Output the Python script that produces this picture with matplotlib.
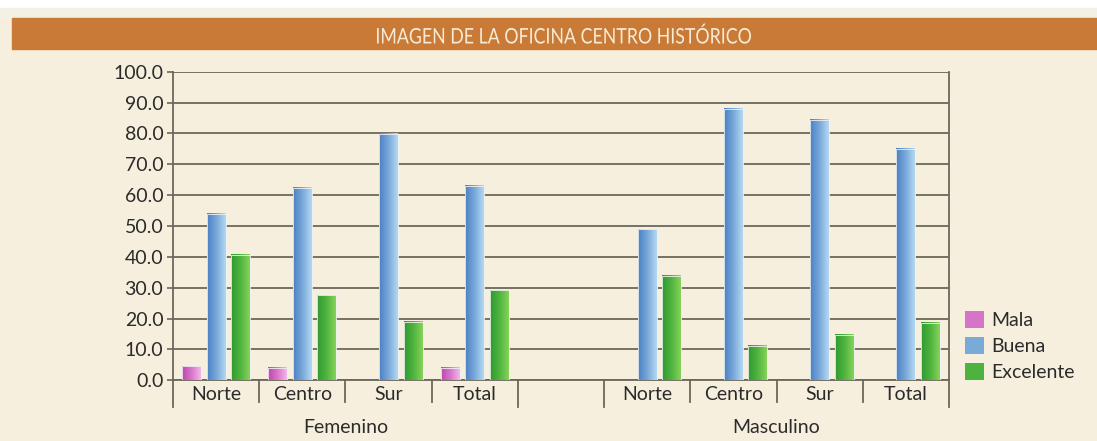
import numpy as np
import matplotlib
matplotlib.use('Agg')
import matplotlib.pyplot as plt
import matplotlib.transforms as mtransforms
from matplotlib.colors import LinearSegmentedColormap
from matplotlib.patches import Rectangle, Patch, PathPatch
from matplotlib.textpath import TextPath
from matplotlib.font_manager import FontProperties

# data
title = 'IMAGEN DE LA OFICINA CENTRO HISTÓRICO'
zones = ['Norte', 'Centro', 'Sur', 'Total']
groups = ['Femenino', 'Masculino']
series = ['Mala', 'Buena', 'Excelente']

fem_mala = [4.5, 4.0, np.nan, 4.0]
fem_buena = [53.9, 62.3, 79.9, 63.1]
fem_excelente = [40.6, 27.5, 18.9, 29.1]
mas_mala = [np.nan, np.nan, np.nan, np.nan]
mas_buena = [48.9, 88.0, 84.3, 75.1]
mas_excelente = [33.8, 11.1, 14.7, 18.6]

y_ticks = np.arange(0, 101, 10)

# styling
W, H = 1097, 441
BG = '#F6EFDD'
ORANGE = '#C97A36'
GRID = '#6B675C'
TXT = '#2B2B2B'
grad_colors = [
    ['#BE48AE', '#DA74CA', '#F2B8EA'],
    ['#4C80C2', '#78A8DA', '#B4D8F2'],
    ['#2F9A32', '#4FB43E', '#86D25A'],
]
solid = ['#D674CA', '#7AAAD8', '#4DB23E']

plt.rcParams['font.family'] = ['Lato', 'DejaVu Sans']

cats = zones + [''] + zones
data = [fem_mala + [np.nan] + mas_mala,
        fem_buena + [np.nan] + mas_buena,
        fem_excelente + [np.nan] + mas_excelente]

fig = plt.figure(figsize=(W / 100, H / 100), dpi=100, facecolor=BG)

# page header: white strip, light strip, orange banner
fig.add_artist(Rectangle((0, 1 - 8 / H), 1, 8 / H, transform=fig.transFigure,
                         color='white', zorder=0))
fig.add_artist(Rectangle((0, 1 - 18 / H), 1, 10 / H, transform=fig.transFigure,
                         color='#F3F0E4', zorder=0))
fig.add_artist(Rectangle((12 / W, 1 - 49 / H), 1 - 12 / W, 31 / H,
                         transform=fig.transFigure, color=ORANGE, zorder=1))

# condensed title: squeeze a Lato text path to the width of the original
tp = TextPath((0, 0), title, size=21.5, prop=FontProperties(family='Lato'))
ext = tp.get_extents()
sx = 374 / ext.width
title_tr = (mtransforms.Affine2D().translate(-ext.x0, 0).scale(sx, 1.0)
            .translate(377, H - 43.5))
fig.add_artist(PathPatch(tp, transform=title_tr, facecolor='#F7EBD5',
                         edgecolor='none', zorder=2))

ax = fig.add_axes([173 / W, 1 - 380.3 / H, (949 - 173) / W, (380.3 - 71.7) / H])
ax.set_facecolor(BG)

x = np.arange(len(cats))
grad = np.linspace(0, 1, 64).reshape(1, -1)
offsets = [-0.284, 0, 0.284]
for i, vals in enumerate(data):
    vals = np.array(vals, dtype=float)
    ok = np.isfinite(vals)
    cmap = LinearSegmentedColormap.from_list('g%d' % i, grad_colors[i])
    bars = ax.bar(x[ok] + offsets[i], vals[ok], width=0.22, facecolor='none',
                  edgecolor='#EEF2F0', linewidth=0.6, zorder=4)
    for b in bars:
        x0, w, h = b.get_x(), b.get_width(), b.get_height()
        ax.imshow(grad, cmap=cmap, extent=[x0, x0 + w, 0, h], aspect='auto',
                  interpolation='bicubic', zorder=3)

ax.set_xlim(-0.5, len(cats) - 0.5)
ax.set_ylim(0, 100)

ax.set_yticks(y_ticks)
ax.set_yticklabels(['%.1f' % v for v in y_ticks])
ax.yaxis.grid(True, color=GRID, linewidth=1.3)
ax.set_axisbelow(True)
ax.tick_params(axis='y', length=4, width=1.2, color=GRID, labelsize=14,
               labelcolor=TXT, pad=3)
ax.set_xticks(x)
ax.set_xticklabels(cats)
ax.tick_params(axis='x', length=0, labelsize=14, labelcolor=TXT, pad=4)

for side in ['left', 'right', 'bottom']:
    ax.spines[side].set_color(GRID)
    ax.spines[side].set_linewidth(1.3)
ax.spines['top'].set_visible(False)

# category separators under the axis
trans = mtransforms.blended_transform_factory(ax.transData, ax.transAxes)
long_sep = [-0.5, 3.5, 4.5, 8.5]
for b in np.arange(-0.5, len(cats), 1.0):
    L = 0.088 if b in long_sep else 0.071
    ax.plot([b, b], [0, -L], transform=trans, color=GRID, lw=1.3, clip_on=False)

ax.text(1.5, -0.152, groups[0], transform=trans, ha='center', va='center',
        fontsize=14, color=TXT)
ax.text(6.5, -0.152, groups[1], transform=trans, ha='center', va='center',
        fontsize=14, color=TXT)

handles = [Patch(facecolor=c, edgecolor='none') for c in solid]
fig.legend(handles, series, loc='center left', bbox_to_anchor=(965 / W, 1 - 346 / H),
           frameon=False, fontsize=14, handlelength=1.0, handleheight=1.0,
           labelspacing=0.4, handletextpad=0.35, borderpad=0, borderaxespad=0,
           labelcolor=TXT)

fig.savefig('out.png', dpi=100, facecolor=BG)
